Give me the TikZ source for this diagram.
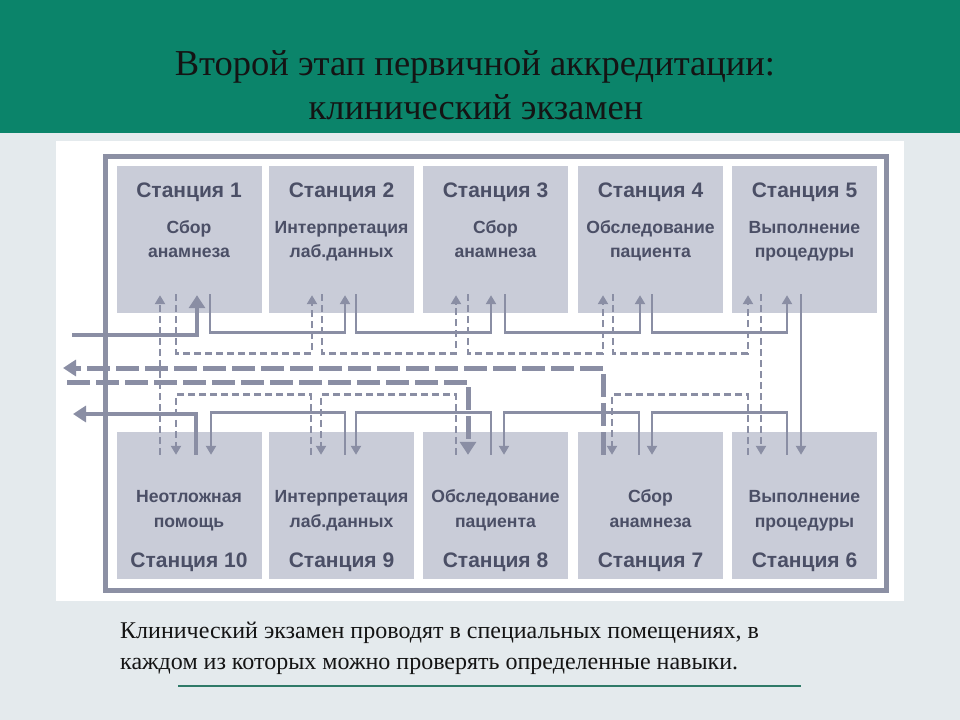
\documentclass[tikz,border=0pt]{standalone}
\usepackage{fontspec}
\setmainfont{Liberation Serif}
\newfontfamily\boxfont{Liberation Sans}
\usetikzlibrary{arrows.meta,calc}
\definecolor{hdr}{HTML}{0B846A}
\definecolor{pagebg}{HTML}{E4EAED}
\definecolor{framec}{HTML}{8C90A4}
\definecolor{boxc}{HTML}{C9CCD8}
\definecolor{boxtxt}{HTML}{4B4F66}
\definecolor{arrc}{HTML}{8A8EA4}
\definecolor{ulc}{HTML}{2F7A68}
\tikzset{
  stbox/.style={fill=boxc, draw=none, minimum width=145bp, minimum height=147bp, inner sep=0pt},
  sttitle/.style={anchor=base, text=boxtxt, font=\boxfont\bfseries\fontsize{21bp}{24bp}\selectfont, inner sep=0pt},
  stdesc/.style={anchor=base, text=boxtxt, font=\boxfont\bfseries\fontsize{17.6bp}{25bp}\selectfont, inner sep=0pt},
  sol/.style={draw=arrc, line width=2.8bp, -{Triangle[width=10bp,length=9bp]}},
  solthick/.style={draw=arrc, line width=4.5bp, -{Triangle[width=16bp,length=13bp]}},
  dsh/.style={draw=arrc, line width=2.8bp, dash pattern=on 7bp off 4bp, -{Triangle[width=10bp,length=9bp]}},
  ldsh/.style={draw=arrc, line width=5bp, dash pattern=on 23bp off 6bp, -{Triangle[width=16bp,length=13bp]}},
  slidetitle/.style={anchor=base, inner sep=0pt, text=black!92, font=\fontsize{36.5bp}{42bp}\selectfont},
  bodytext/.style={anchor=base west, inner sep=0pt, text=black!92, font=\fontsize{24bp}{28bp}\selectfont}
}
\begin{document}
\begin{tikzpicture}[x=1bp,y=-1bp]
\useasboundingbox (0,0) rectangle (960,720);
\fill[pagebg] (0,0) rectangle (960,720);
\fill[hdr] (0,0) rectangle (960,133);
\fill[white] (56,141) rectangle (904,601);

\node[slidetitle] (t1) at (475,76) {Второй этап первичной аккредитации:};
\node[slidetitle] (t2) at (476,120) {клинический экзамен};

% frame
\draw[framec, line width=5bp] (105,157) rectangle (886,590);

% boxes
\node[stbox] (s1) at (189,239.5) {};
\node[stbox] (s2) at (341.5,239.5) {};
\node[stbox] (s3) at (495.5,239.5) {};
\node[stbox] (s4) at (650.5,239.5) {};
\node[stbox] (s5) at (804.5,239.5) {};
\node[stbox] (s10) at (189,505.5) {};
\node[stbox] (s9) at (341.5,505.5) {};
\node[stbox] (s8) at (495.5,505.5) {};
\node[stbox] (s7) at (650.5,505.5) {};
\node[stbox] (s6) at (804.5,505.5) {};

% labels (top row: box top at 166)
\foreach \b/\n/\la/\lb in {s1/1/Сбор/анамнеза, s2/2/Интерпретация/лаб.данных, s3/3/Сбор/анамнеза, s4/4/Обследование/пациента, s5/5/Выполнение/процедуры}{
  \node[sttitle] (\b t) at ($(\b.north)+(0,32)$) {Станция \n};
  \node[stdesc] (\b a) at ($(\b.north)+(0,68)$) {\la};
  \node[stdesc] (\b b) at ($(\b.north)+(0,92)$) {\lb};
}
% labels (bottom row: box top at 432, bottom at 579)
\foreach \b/\n/\la/\lb in {s10/10/Неотложная/помощь, s9/9/Интерпретация/лаб.данных, s8/8/Обследование/пациента, s7/7/Сбор/анамнеза, s6/6/Выполнение/процедуры}{
  \node[sttitle] (\b t) at ($(\b.south)+(0,-12)$) {Станция \n};
  \node[stdesc] (\b a) at ($(\b.north)+(0,71)$) {\la};
  \node[stdesc] (\b b) at ($(\b.north)+(0,96)$) {\lb};
}

% outside ends
\coordinate (inS) at (72,335);
\coordinate (outS) at (73,414);
\coordinate (outD) at (63,368);
\coordinate (inD) at (67,382);

% solid route
\draw[solthick] (inS) -| ($(s1.south)+(8,-18)$);
\draw[sol] ($(s1.south)+(21,-19)$) -- ++(0,38) -| ($(s2.south)+(3.5,-18)$);
\draw[sol] ($(s2.south)+(14.5,-19)$) -- ++(0,38) -| ($(s3.south)+(-4.5,-18)$);
\draw[sol] ($(s3.south)+(9.5,-19)$) -- ++(0,38) -| ($(s4.south)+(-10.5,-18)$);
\draw[sol] ($(s4.south)+(1.5,-19)$) -- ++(0,38) -| ($(s5.south)+(-17.5,-18)$);
\draw[sol] ($(s5.south)+(-3.5,-19)$) -- ($(s6.north)+(-3.5,23)$);
\draw[sol] ($(s6.north)+(-17.5,23)$) -- ++(0,-42) -| ($(s7.north)+(1.5,23)$);
\draw[sol] ($(s7.north)+(-11.5,23)$) -- ++(0,-42) -| ($(s8.north)+(8.5,23)$);
\draw[sol] ($(s8.north)+(-4.5,23)$) -- ++(0,-42) -| ($(s9.north)+(14.5,23)$);
\draw[sol] ($(s9.north)+(3.5,23)$) -- ++(0,-42) -| ($(s10.north)+(22,23)$);
\draw[solthick] ($(s10.north)+(7,23)$) |- (outS);

% dashed route
\draw[ldsh] (inD) -| ($(s8.north)+(-27.5,23)$);
\draw[dsh] ($(s8.north)+(-39.5,23)$) -- ++(0,-60) -| ($(s9.north)+(-20.5,23)$);
\draw[dsh] ($(s9.north)+(-30.5,23)$) -- ++(0,-60) -| ($(s10.north)+(-13,23)$);
\draw[dsh] ($(s10.north)+(-29,23)$) -- ($(s1.south)+(-29,-18)$);
\draw[dsh] ($(s1.south)+(-13,-19)$) -- ++(0,59) -| ($(s2.south)+(-29.5,-18)$);
\draw[dsh] ($(s2.south)+(-19.5,-19)$) -- ++(0,59) -| ($(s3.south)+(-39.5,-18)$);
\draw[dsh] ($(s3.south)+(-27.5,-19)$) -- ++(0,59) -| ($(s4.south)+(-47.5,-18)$);
\draw[dsh] ($(s4.south)+(-37.5,-19)$) -- ++(0,59) -| ($(s5.south)+(-56.5,-18)$);
\draw[dsh] ($(s5.south)+(-43.5,-19)$) -- ($(s6.north)+(-43.5,23)$);
\draw[dsh] ($(s6.north)+(-56.5,23)$) -- ++(0,-60) -| ($(s7.north)+(-38.5,23)$);
\draw[ldsh] ($(s7.north)+(-47.5,23)$) |- (outD);

% bottom text
\node[bodytext] (b1) at (120,638) {Клинический экзамен проводят в специальных помещениях, в};
\node[bodytext] (b2) at (120,669) {каждом из которых можно проверять определенные навыки.};
\draw[ulc, line width=2.2bp] (178,686) -- (801,686);
\end{tikzpicture}
\end{document}
